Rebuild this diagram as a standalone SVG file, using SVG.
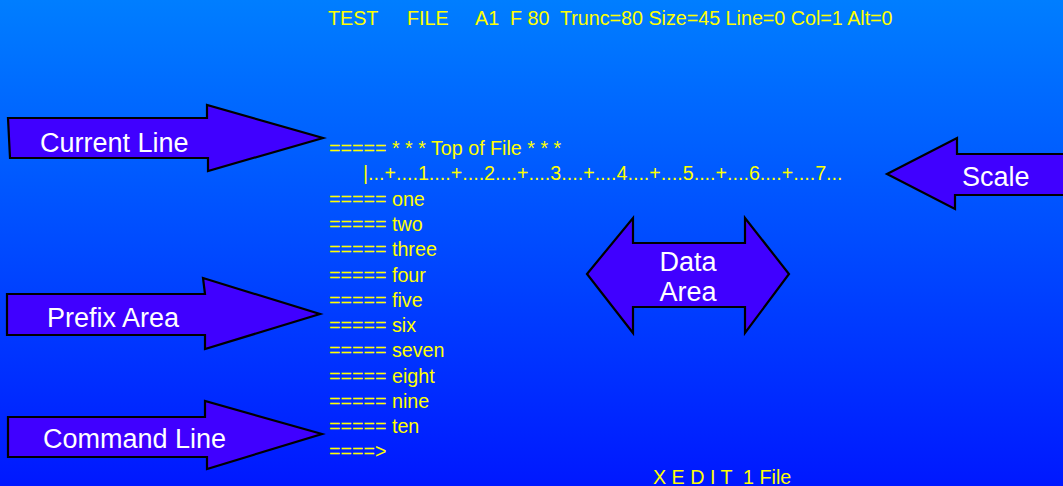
<svg xmlns="http://www.w3.org/2000/svg" width="1063" height="486" viewBox="0 0 1063 486">
  <defs>
    <linearGradient id="bg" x1="0" y1="0" x2="0" y2="1">
      <stop offset="0" stop-color="#007eff"/>
      <stop offset="1" stop-color="#0018ff"/>
    </linearGradient>
  </defs>
  <style>
    .arrow { fill: #4000ff; stroke: #000000; stroke-width: 2.2; stroke-linejoin: miter; }
    .lbl { font-family: "Liberation Sans", Arial, sans-serif; font-size: 27px; fill: #ffffff; }
    .scr { font-family: "Liberation Sans", Arial, sans-serif; font-size: 19.7px; fill: #ffff00; white-space: pre; }
  </style>
  <rect x="0" y="0" width="1063" height="486" fill="url(#bg)"/>

  <g id="screen">
    <text class="scr" x="328" y="25">TEST</text>
    <text class="scr" x="407" y="25">FILE</text>
    <text class="scr" x="475" y="25" xml:space="preserve">A1  F 80  Trunc=80 Size=45 Line=0 Col=1 Alt=0</text>
    <text class="scr" x="329" y="155">===== * * * Top of File * * *</text>
    <text class="scr" x="363" y="180">|...+....1....+....2....+....3....+....4....+....5....+....6....+....7...</text>
    <text class="scr" x="329" y="205.5">===== one</text>
    <text class="scr" x="329" y="231">===== two</text>
    <text class="scr" x="329" y="256">===== three</text>
    <text class="scr" x="329" y="281.5">===== four</text>
    <text class="scr" x="329" y="307">===== five</text>
    <text class="scr" x="329" y="332">===== six</text>
    <text class="scr" x="329" y="357">===== seven</text>
    <text class="scr" x="329" y="382.5">===== eight</text>
    <text class="scr" x="329" y="408">===== nine</text>
    <text class="scr" x="329" y="433">===== ten</text>
    <text class="scr" x="329" y="458">====&gt;</text>
    <text class="scr" x="653" y="484" xml:space="preserve">X E D I T  1 File</text>
  </g>

  <g id="current-line">
    <polygon class="arrow" points="8,118 207,118 207,105 323,138 208,171 208,158 10,158"/>
    <text class="lbl" x="40" y="152">Current Line</text>
  </g>

  <g id="scale">
    <polygon class="arrow" points="887,174 957,138 957,154 1066,154 1066,195 955,195 955,209"/>
    <text class="lbl" x="962" y="186">Scale</text>
  </g>

  <g id="data-area">
    <polygon class="arrow" points="587,274 633,218 633,243 745,243 745,218 789,274 745,333 745,307 633,307 633,333"/>
    <text class="lbl" x="688" y="271" text-anchor="middle">Data</text>
    <text class="lbl" x="688" y="301" text-anchor="middle">Area</text>
  </g>

  <g id="prefix-area">
    <polygon class="arrow" points="7,294 205,294 203,278 320,314 205,349 205,335 7,335"/>
    <text class="lbl" x="47" y="327">Prefix Area</text>
  </g>

  <g id="command-line">
    <polygon class="arrow" points="8,417 205,417 205,401 322,434 207,469 207,457 8,457"/>
    <text class="lbl" x="43" y="448">Command Line</text>
  </g>

  <g id="connectors"/>
</svg>
